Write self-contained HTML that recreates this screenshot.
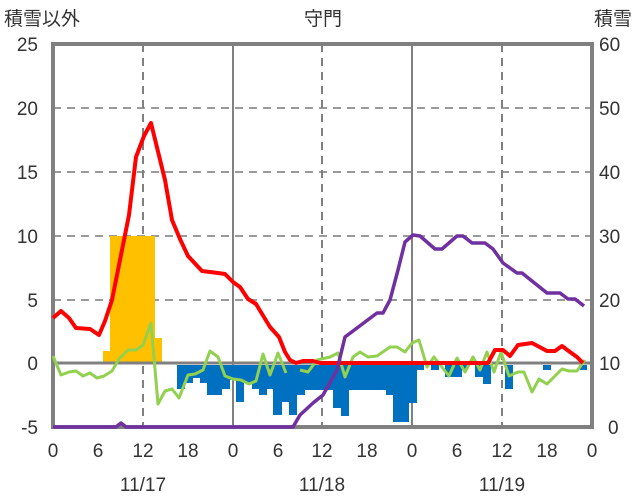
<!DOCTYPE html>
<html><head><meta charset="utf-8"><style>
body{margin:0;background:#fff}
svg{display:block}
text{font-family:"Liberation Sans","Noto Sans CJK JP",sans-serif;fill:#333;font-size:19px}
</style></head><body>
<svg width="636" height="501" viewBox="0 0 636 501" xmlns="http://www.w3.org/2000/svg">
<rect width="636" height="501" fill="#fff"/>
<g stroke="#9a9a9a" stroke-width="2" stroke-dasharray="8,6">
<line x1="53" y1="108" x2="592" y2="108"/>
<line x1="53" y1="172" x2="592" y2="172"/>
<line x1="53" y1="236" x2="592" y2="236"/>
<line x1="53" y1="300" x2="592" y2="300"/>
</g>
<g stroke="#808080" stroke-width="2" stroke-dasharray="8,6">
<line x1="143" y1="44" x2="143" y2="427"/>
<line x1="322" y1="44" x2="322" y2="427"/>
<line x1="502" y1="44" x2="502" y2="427"/>
</g>
<g stroke="#808080" stroke-width="2">
<line x1="233" y1="44" x2="233" y2="427"/>
<line x1="412" y1="44" x2="412" y2="427"/>
</g>
<rect x="53" y="44" width="539" height="383" fill="none" stroke="#808080" stroke-width="4"/>
<g fill="#ffc000">
<rect x="103" y="351" width="7" height="12"/>
<rect x="110" y="236" width="45" height="127"/>
<rect x="155" y="338" width="7" height="25"/>
</g>
<g fill="#0070c0">
<rect x="177" y="365" width="8" height="24"/>
<rect x="185" y="365" width="8" height="18"/>
<rect x="193" y="365" width="7" height="13"/>
<rect x="200" y="365" width="7" height="18"/>
<rect x="207" y="365" width="15" height="30"/>
<rect x="222" y="365" width="8" height="24"/>
<rect x="230" y="365" width="6" height="15"/>
<rect x="236" y="365" width="8" height="37"/>
<rect x="244" y="365" width="8" height="18"/>
<rect x="252" y="365" width="7" height="24"/>
<rect x="259" y="365" width="8" height="30"/>
<rect x="267" y="365" width="6" height="24"/>
<rect x="273" y="365" width="9" height="50"/>
<rect x="282" y="365" width="7" height="37"/>
<rect x="289" y="365" width="8" height="50"/>
<rect x="297" y="365" width="8" height="30"/>
<rect x="305" y="365" width="28" height="25"/>
<rect x="333" y="365" width="8" height="43"/>
<rect x="341" y="365" width="8" height="51"/>
<rect x="349" y="365" width="37" height="25"/>
<rect x="386" y="365" width="7" height="30"/>
<rect x="393" y="365" width="16" height="57"/>
<rect x="409" y="365" width="8" height="38"/>
<rect x="417" y="365" width="7" height="5"/>
<rect x="431" y="365" width="8" height="5"/>
<rect x="445" y="365" width="17" height="12"/>
<rect x="462" y="365" width="6" height="5"/>
<rect x="475" y="365" width="8" height="12"/>
<rect x="483" y="365" width="8" height="19"/>
<rect x="505" y="365" width="8" height="24"/>
<rect x="543" y="365" width="8" height="5"/>
<rect x="580" y="365" width="7" height="5"/>
</g>
<line x1="53" y1="363" x2="592" y2="363" stroke="#808080" stroke-width="3"/>
<g fill="none" stroke="#92d050" stroke-width="3" stroke-linejoin="round">
<polyline points="53,356 61,375 69,372 76,371 83,376 90,373 97,378 104,376 112,371 119,359 128,350 136,350 143,345 151,323 158,404 165,391 172,389 179,398 188,375 195,374 203,370 210,351 218,357 225,376 233,379 241,380 249,384 256,381 263,354 270,375 278,353 286,373"/>
<polyline points="300,370 308,372 317,360 330,357 338,353 345,377 353,357 360,352 368,357 377,356 390,347 397,347 405,352 412,343 419,340 427,367 434,357 449,376 457,358 465,372 473,357 480,370 487,352 494,372 501,352 509,376 518,372 524,372 532,392 539,379 547,384 562,369 569,371 577,371 585,360"/>
</g>
<polyline fill="none" stroke="#ff0000" stroke-width="4" stroke-linejoin="round" points="53,318 61,311 69,318 76,328 90,329 99,335 105,321 112,300 119,265 126,230 129,215 136,157 144,136 151,123 165,180 172,220 180,239 188,256 202,271 218,273 225,274 233,282 240,287 248,299 256,304 270,327 279,337 285,352 290,360 296,363 303,361 313,361 320,363 340,363 400,363 450,363 488,363 495,350 503,350 510,356 518,345 532,343 547,351 555,351 562,346 570,352 577,357 583,363"/>
<polyline fill="none" stroke="#7030a0" stroke-width="3.5" stroke-linejoin="round" points="53,427 116,427 121,423 126,427 293,427 300,415 313,403 323,395 337,370 345,337 357,328 377,313 383,313 390,300 398,270 405,242 413,235 420,236 435,249 442,249 457,236 463,236 472,243 485,243 493,249 503,263 517,273 522,273 547,293 560,293 568,299 575,299 584,306"/>
<g text-anchor="end">
<text x="38" y="51">25</text><text x="38" y="115">20</text><text x="38" y="179">15</text>
<text x="38" y="243">10</text><text x="38" y="307">5</text><text x="38" y="370">0</text><text x="38" y="434">-5</text>
</g>
<g text-anchor="start">
<text x="599" y="51">60</text><text x="599" y="115">50</text><text x="599" y="179">40</text>
<text x="599" y="243">30</text><text x="599" y="307">20</text><text x="599" y="370">10</text><text x="608" y="434">0</text>
</g>
<g text-anchor="middle">
<text x="53" y="457">0</text><text x="98" y="457">6</text><text x="143" y="457">12</text><text x="188" y="457">18</text>
<text x="233" y="457">0</text><text x="278" y="457">6</text><text x="322" y="457">12</text><text x="367" y="457">18</text>
<text x="412" y="457">0</text><text x="457" y="457">6</text><text x="502" y="457">12</text><text x="547" y="457">18</text><text x="592" y="457">0</text>
<text x="143" y="491">11/17</text><text x="322" y="491">11/18</text><text x="502" y="491">11/19</text>
<text x="323" y="25">守門</text>
</g>
<text x="4" y="25">積雪以外</text>
<text x="632" y="25" text-anchor="end">積雪</text>
</svg>
</body></html>
